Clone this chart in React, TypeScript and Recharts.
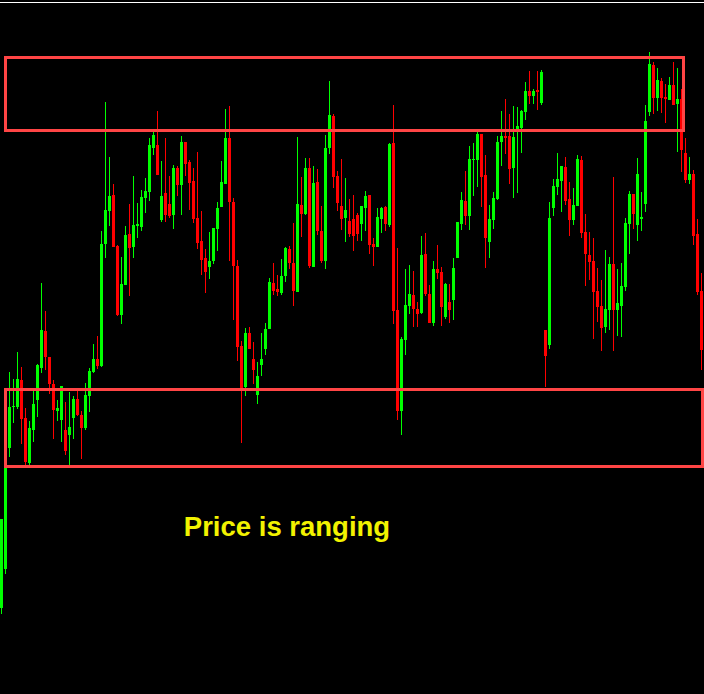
import { Bar, ComposedChart, ReferenceArea, ReferenceLine, XAxis, YAxis } from 'recharts'

// price points, one entry per candle (oldest first)
const OPEN = [
  92, 131, 252, 293, 293, 320, 282, 237, 270, 300, 332, 369, 343, 316, 289, 280, 270, 265, 282, 301,
  285, 272, 304, 328, 341, 334, 456, 489, 505, 454, 385, 415, 466, 453, 474, 473, 502, 508, 552, 555,
  480, 507, 496, 485, 532, 515, 558, 538, 519, 482, 459, 442, 433, 439, 471, 493, 516, 562, 498, 434,
  354, 313, 367, 341, 305, 335, 351, 371, 417, 411, 407, 424, 451, 437, 408, 495, 486, 532, 433, 518,
  469, 439, 552, 584, 524, 494, 482, 479, 481, 485, 476, 492, 505, 456, 453, 481, 493, 475, 557, 390,
  289, 360, 394, 405, 391, 387, 446, 406, 377, 431, 428, 383, 398, 400, 442, 476, 499, 484, 540, 540,
  566, 525, 458, 480, 501, 558, 564, 564, 532, 568, 572, 588, 609, 604, 610, 597, 370, 355, 492, 513,
  519, 533, 501, 480, 494, 540, 468, 445, 439, 409, 394, 373, 390, 436, 390, 394, 413, 476, 506, 475,
  481, 496, 588, 635, 602, 619, 603, 600, 615, 596, 601, 547, 520, 526, 466, 409, 353,
]
const HIGH = [
  181, 254, 328, 321, 348, 333, 292, 279, 309, 336, 417, 389, 343, 320, 300, 314, 298, 308, 304, 309,
  289, 317, 332, 356, 364, 469, 598, 543, 516, 455, 443, 474, 496, 524, 497, 510, 522, 562, 569, 589,
  539, 562, 524, 535, 534, 564, 558, 540, 532, 548, 489, 451, 468, 472, 498, 539, 591, 594, 502, 440,
  359, 372, 373, 358, 338, 367, 377, 422, 437, 425, 441, 453, 454, 477, 563, 523, 542, 542, 534, 531,
  494, 565, 619, 586, 529, 541, 522, 501, 505, 487, 494, 509, 505, 462, 492, 493, 494, 557, 595, 452,
  363, 431, 435, 429, 398, 464, 467, 415, 439, 455, 433, 417, 416, 442, 478, 508, 529, 554, 557, 568,
  566, 545, 495, 508, 564, 589, 601, 586, 594, 593, 590, 618, 629, 611, 629, 630, 370, 498, 521, 547,
  534, 543, 518, 512, 545, 544, 486, 468, 462, 432, 420, 450, 443, 523, 431, 437, 482, 509, 506, 542,
  508, 595, 648, 638, 632, 622, 616, 623, 638, 632, 611, 562, 543, 530, 481, 427, 353,
]
const LOW = [
  86, 126, 243, 277, 291, 256, 235, 235, 258, 283, 327, 330, 306, 261, 279, 258, 245, 235, 261, 284,
  241, 270, 288, 327, 331, 333, 442, 474, 453, 384, 376, 415, 404, 442, 462, 469, 487, 499, 545, 525,
  478, 478, 482, 471, 504, 485, 524, 490, 477, 451, 425, 407, 421, 436, 449, 493, 516, 439, 380, 339,
  257, 304, 351, 316, 296, 324, 345, 371, 405, 404, 405, 418, 431, 394, 408, 463, 485, 432, 433, 465,
  437, 431, 546, 512, 489, 470, 458, 463, 449, 459, 459, 469, 446, 434, 453, 467, 469, 473, 376, 280,
  265, 345, 386, 373, 373, 386, 404, 377, 374, 421, 374, 381, 377, 380, 442, 470, 475, 470, 504, 513,
  493, 432, 442, 471, 500, 534, 546, 516, 502, 507, 547, 580, 596, 596, 590, 595, 313, 351, 484, 505,
  488, 495, 464, 475, 494, 462, 414, 420, 361, 378, 349, 367, 370, 349, 364, 363, 409, 446, 471, 459,
  469, 488, 584, 586, 589, 587, 577, 600, 595, 548, 528, 517, 516, 455, 405, 330, 300,
]
const CLOSE = [
  181, 254, 293, 294, 321, 281, 238, 272, 296, 335, 370, 343, 316, 290, 292, 314, 249, 273, 301, 285,
  272, 305, 329, 341, 334, 456, 490, 504, 453, 385, 416, 465, 452, 475, 476, 503, 509, 555, 565, 525,
  504, 485, 484, 532, 515, 558, 536, 517, 481, 457, 440, 428, 439, 472, 492, 518, 562, 498, 434, 353,
  312, 367, 351, 330, 324, 341, 371, 418, 409, 408, 424, 452, 437, 409, 496, 486, 532, 434, 517, 469,
  439, 552, 585, 523, 497, 481, 490, 466, 464, 466, 494, 504, 455, 453, 483, 492, 476, 556, 389, 289,
  361, 395, 406, 391, 386, 445, 406, 377, 431, 427, 393, 416, 390, 432, 478, 500, 484, 541, 541, 566,
  523, 462, 481, 502, 558, 564, 562, 531, 563, 574, 589, 609, 604, 609, 608, 628, 344, 482, 514, 521,
  534, 499, 480, 495, 541, 467, 446, 438, 408, 393, 372, 391, 436, 390, 397, 414, 477, 506, 486, 526,
  483, 579, 636, 602, 620, 602, 601, 615, 595, 601, 550, 520, 526, 464, 408, 350, 305,
]

// the two zones drawn on the chart: bar index range and price range
const ZONE_X1 = [1.375, 1.375]
const ZONE_X2 = [170.875, 175.625]
const ZONE_LOW = [569.5, 233.5]
const ZONE_HIGH = [642.5, 310.5]

const candles = OPEN.map((open, i) => ({
  idx: i,
  open,
  high: HIGH[i],
  low: LOW[i],
  close: CLOSE[i],
}))

const BULL = '#00ff00'
const BEAR = '#ff0000'
const ZONE = '#ff4545'

const Candle = (props: any) => {
  const { x, y, width, height, payload } = props
  const { open, close, high, low } = payload
  const cx = Math.round(x + width / 2)
  const unit = height / (high - low || 1)
  const py = (v: number) => y + (high - v) * unit
  const color = close >= open ? BULL : BEAR
  const top = py(Math.max(open, close))
  const bottom = py(Math.min(open, close))
  return (
    <g shapeRendering="crispEdges">
      <rect x={cx} y={y} width={1} height={Math.max(height, 1)} fill={color} />
      <rect x={cx - 1} y={top} width={3} height={Math.max(bottom - top, 1)} fill={color} />
    </g>
  )
}

export default function App() {
  return (
    <div
      style={{
        position: 'absolute',
        left: 0,
        top: 0,
        width: 704,
        height: 694,
        background: '#000',
        overflow: 'hidden',
      }}
    >
      <div style={{ position: 'absolute', left: -2, top: 0 }}>
        <ComposedChart
          width={708}
          height={694}
          data={candles}
          margin={{ top: 0, right: 0, bottom: 0, left: 0 }}
          barCategoryGap={0}
        >
          <XAxis dataKey="idx" type="category" hide />
          <XAxis
            xAxisId="n"
            dataKey="idx"
            type="number"
            domain={[-0.5, 176.5]}
            allowDataOverflow
            hide
          />
          <YAxis type="number" domain={[6, 700]} allowDataOverflow hide />
          <ReferenceLine y={697.5} stroke="#ffffff" strokeWidth={1} />
          <Bar
            dataKey={(d: any) => [d.low, d.high]}
            barSize={3}
            shape={<Candle />}
            isAnimationActive={false}
          />
          {ZONE_X1.map((x1, i) => (
            <ReferenceArea
              key={`zone-${i}`}
              xAxisId="n"
              x1={x1}
              x2={ZONE_X2[i]}
              y1={ZONE_LOW[i]}
              y2={ZONE_HIGH[i]}
              fill="none"
              fillOpacity={0}
              stroke={ZONE}
              strokeWidth={3}
              ifOverflow="visible"
              zIndex={1000}
            />
          ))}
        </ComposedChart>
      </div>
      <svg
        width={704}
        height={694}
        style={{ position: 'absolute', left: 0, top: 0, pointerEvents: 'none' }}
      >
        <text
          x={287}
          y={536}
          textAnchor="middle"
          fill="#f2f200"
          fontFamily="'Liberation Sans', Arial, sans-serif"
          fontWeight="bold"
          fontSize={27.5}
        >
          Price is ranging
        </text>
      </svg>
    </div>
  )
}
